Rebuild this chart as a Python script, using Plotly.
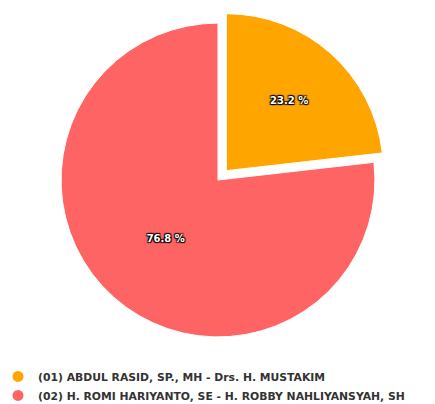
import plotly.graph_objects as go

labels = ["(01) ABDUL RASID, SP., MH - Drs. H. MUSTAKIM",
          "(02) H. ROMI HARIYANTO, SE - H. ROBBY NAHLIYANSYAH, SH"]
values = [23.2, 76.8]
colors = ["#FFA500", "#FF6464"]
pulls = [0.08, 0]

fig = go.Figure()
fig.add_trace(go.Pie(
    labels=labels, values=values, sort=False, direction="clockwise", rotation=0,
    pull=pulls, marker=dict(colors=colors, line=dict(color="white", width=1)),
    texttemplate="%{value:.1f} %", textposition="inside", insidetextorientation="horizontal",
    textfont=dict(color="white", size=10, family="DejaVu Sans", weight="bold",
                  shadow="1px 1px 1px #000, -1px -1px 1px #000, 1px -1px 1px #000, -1px 1px 1px #000"),
    showlegend=False, hoverinfo="label+percent",
    domain=dict(x=[0.0931, 0.8724], y=[0.1547, 0.9938]),
))
for lab, col in zip(labels, colors):
    fig.add_trace(go.Scatter(x=[None], y=[None], mode="markers", name=lab,
                             marker=dict(color=col, size=11, symbol="circle")))

fig.update_layout(
    width=435, height=404, margin=dict(l=0, r=0, t=0, b=0, autoexpand=False),
    paper_bgcolor="white", plot_bgcolor="white",
    xaxis=dict(visible=False), yaxis=dict(visible=False),
    legend=dict(x=-0.023, y=0.005, xanchor="left", yanchor="bottom", orientation="v",
                font=dict(family="DejaVu Sans", size=10.8, color="#333", weight="bold"),
                itemwidth=30, tracegroupgap=0, bgcolor="rgba(0,0,0,0)"),
)
fig.write_html("out.html")
